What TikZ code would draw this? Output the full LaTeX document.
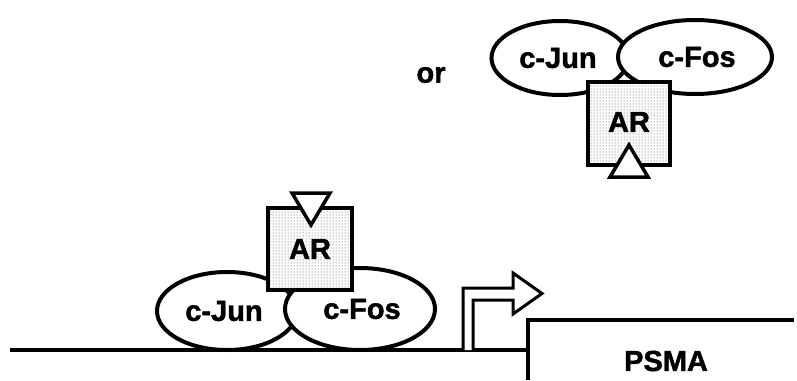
\documentclass[tikz,border=0pt]{standalone}
\usepackage{fontspec}
\setmainfont{Liberation Sans}
\newfontfamily\heavyfont{Liberation Sans}[UprightFont=*-Bold,FakeBold=1.6]
\usetikzlibrary{shapes.geometric,patterns}
\begin{document}
\begin{tikzpicture}[x=1pt,y=-1pt,
  lab/.style={font=\fontsize{29}{31}\heavyfont},
  prot/.style={ellipse,draw,line width=4pt,fill=white,inner sep=0pt,lab},
  arbox/.style={rectangle,draw,line width=4pt,inner sep=0pt,
    preaction={fill=white},pattern=dots,pattern color=black!75,lab,
    minimum width=84pt,minimum height=82pt},
  tri/.style={draw,line width=3.5pt,fill=white,line join=miter},
  thick line/.style={line width=3.5pt}]
\useasboundingbox (0,0) rectangle (797,380);
% DNA
\coordinate (dnaL) at (10,350);
\coordinate (geneL) at (528,350);
\draw[thick line] (dnaL) -- (geneL);
\node[lab] (psma) at (666,361) {PSMA};
\draw[thick line] (528,380) |- (794,320);
% promoter arrow
\draw[line width=3pt,fill=white,line join=miter] (463,350) -- (463,288) -- (513,288) -- (513,273) -- (542,293.5) -- (513,314) -- (513,300) -- (473,300) -- (473,350);
% bottom complex
\node[prot,minimum width=140pt,minimum height=78pt] (jun1) at (227,311) {\hspace*{-6pt}c-Jun};
\node[prot,minimum width=150pt,minimum height=82pt] (fos1) at (360,309) {\hspace*{4pt}\raisebox{-2pt}{c-Fos}};
\node[arbox] (ar1) at (310,249) {\raisebox{-4pt}{AR}};
\draw[tri] (292,193) -- (330,193) -- (311,225) -- cycle;
% or
\node[lab] (or) at (431,75) {or};
% top complex
\node[prot,minimum width=137pt,minimum height=74pt] (jun2) at (560,58) {\hspace*{-4pt}c-Jun};
\node[prot,minimum width=154pt,minimum height=74pt] (fos2) at (695,57) {\hspace*{4pt}c-Fos};
\node[arbox,minimum width=82pt,minimum height=83pt] (ar2) at (629,123) {\raisebox{2pt}{AR}};
\draw[tri] (610,177) -- (648,177) -- (629,145) -- cycle;
\end{tikzpicture}
\end{document}
